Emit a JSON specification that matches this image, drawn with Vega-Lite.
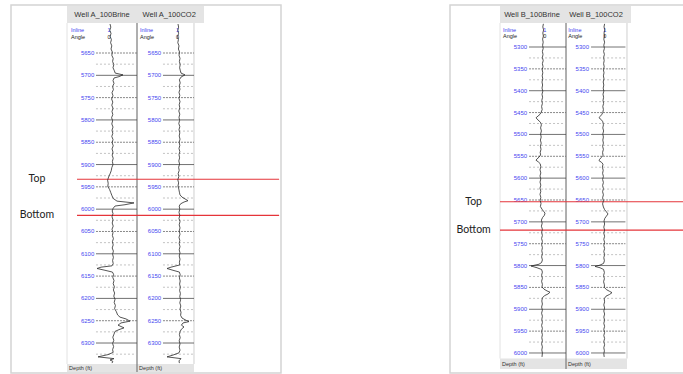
{
  "$schema": "https://vega.github.io/schema/vega-lite/v6.json",
  "background": "white",
  "padding": {"left": 10, "top": 4, "right": 0, "bottom": 0},
  "spacing": 167,
  "config": {
    "view": {"stroke": "#d4d4d4", "strokeWidth": 1.5},
    "axis": {"disable": true},
    "text": {"font": "Liberation Sans"}
  },
  "datasets": {
    "curveA1": [
      {"depth":5585,"amp":-0.10},{"depth":5592,"amp":-0.06},{"depth":5599,"amp":-0.11},{"depth":5606,"amp":-0.05},{"depth":5613,"amp":-0.09},{"depth":5620,"amp":-0.03},{"depth":5627,"amp":-0.07},{"depth":5634,"amp":-0.01},{"depth":5641,"amp":-0.05},{"depth":5648,"amp":0.02},{"depth":5655,"amp":-0.01},{"depth":5662,"amp":0.06},{"depth":5669,"amp":0.03},{"depth":5676,"amp":0.09},{"depth":5683,"amp":0.05},{"depth":5690,"amp":0.12},{"depth":5695,"amp":0.16},{"depth":5699,"amp":0.55},{"depth":5703,"amp":0.35},{"depth":5706,"amp":0.10},{"depth":5712,"amp":0.05},{"depth":5718,"amp":0.10},{"depth":5725,"amp":0.03},{"depth":5732,"amp":0.07},{"depth":5739,"amp":0.00},{"depth":5746,"amp":0.05},{"depth":5753,"amp":-0.02},{"depth":5760,"amp":0.04},{"depth":5767,"amp":-0.01},{"depth":5774,"amp":0.05},{"depth":5781,"amp":0.00},{"depth":5788,"amp":0.04},{"depth":5795,"amp":-0.02},{"depth":5802,"amp":0.03},{"depth":5809,"amp":-0.01},{"depth":5816,"amp":0.05},{"depth":5823,"amp":0.00},{"depth":5830,"amp":0.04},{"depth":5837,"amp":-0.01},{"depth":5844,"amp":0.05},{"depth":5851,"amp":0.01},{"depth":5858,"amp":0.06},{"depth":5865,"amp":0.00},{"depth":5872,"amp":0.05},{"depth":5879,"amp":0.01},{"depth":5886,"amp":0.06},{"depth":5893,"amp":0.02},{"depth":5900,"amp":0.05},{"depth":5907,"amp":-0.01},{"depth":5914,"amp":-0.04},{"depth":5921,"amp":-0.10},{"depth":5928,"amp":-0.17},{"depth":5935,"amp":-0.22},{"depth":5942,"amp":-0.19},{"depth":5949,"amp":-0.21},{"depth":5956,"amp":-0.12},{"depth":5963,"amp":-0.06},{"depth":5970,"amp":0.00},{"depth":5976,"amp":0.06},{"depth":5982,"amp":0.25},{"depth":5986,"amp":1.10},{"depth":5990,"amp":0.65},{"depth":5993,"amp":0.15},{"depth":5998,"amp":0.06},{"depth":6004,"amp":0.01},{"depth":6010,"amp":0.05},{"depth":6017,"amp":0.00},{"depth":6024,"amp":0.05},{"depth":6031,"amp":0.01},{"depth":6038,"amp":0.06},{"depth":6045,"amp":0.00},{"depth":6052,"amp":0.05},{"depth":6059,"amp":0.02},{"depth":6066,"amp":0.07},{"depth":6073,"amp":0.02},{"depth":6080,"amp":0.06},{"depth":6087,"amp":0.01},{"depth":6094,"amp":0.07},{"depth":6101,"amp":0.03},{"depth":6108,"amp":0.07},{"depth":6115,"amp":0.03},{"depth":6122,"amp":0.06},{"depth":6127,"amp":0.00},{"depth":6130,"amp":-0.55},{"depth":6133,"amp":-0.75},{"depth":6137,"amp":-0.35},{"depth":6141,"amp":0.02},{"depth":6146,"amp":0.08},{"depth":6153,"amp":0.04},{"depth":6160,"amp":0.10},{"depth":6167,"amp":0.06},{"depth":6174,"amp":0.12},{"depth":6181,"amp":0.07},{"depth":6188,"amp":0.13},{"depth":6195,"amp":0.09},{"depth":6202,"amp":0.15},{"depth":6209,"amp":0.11},{"depth":6216,"amp":0.17},{"depth":6223,"amp":0.13},{"depth":6230,"amp":0.22},{"depth":6237,"amp":0.28},{"depth":6242,"amp":0.40},{"depth":6246,"amp":0.70},{"depth":6251,"amp":0.90},{"depth":6255,"amp":0.45},{"depth":6260,"amp":0.30},{"depth":6266,"amp":0.60},{"depth":6270,"amp":0.35},{"depth":6274,"amp":0.15},{"depth":6280,"amp":0.10},{"depth":6287,"amp":0.04},{"depth":6294,"amp":0.09},{"depth":6301,"amp":0.03},{"depth":6308,"amp":0.08},{"depth":6315,"amp":0.03},{"depth":6321,"amp":0.06},{"depth":6326,"amp":-0.20},{"depth":6331,"amp":-0.70},{"depth":6335,"amp":0.10},{"depth":6338,"amp":-0.10},{"depth":6341,"amp":0.04},{"depth":6345,"amp":0.00}
    ],
    "curveA2": [
      {"depth":5585,"amp":-0.05},{"depth":5592,"amp":-0.02},{"depth":5599,"amp":-0.06},{"depth":5606,"amp":-0.02},{"depth":5613,"amp":-0.07},{"depth":5620,"amp":-0.03},{"depth":5627,"amp":-0.06},{"depth":5634,"amp":0.00},{"depth":5641,"amp":-0.03},{"depth":5648,"amp":0.03},{"depth":5655,"amp":0.00},{"depth":5662,"amp":0.05},{"depth":5669,"amp":0.02},{"depth":5676,"amp":0.06},{"depth":5683,"amp":0.03},{"depth":5690,"amp":0.07},{"depth":5695,"amp":0.10},{"depth":5699,"amp":0.30},{"depth":5704,"amp":0.10},{"depth":5710,"amp":0.02},{"depth":5717,"amp":0.06},{"depth":5724,"amp":0.01},{"depth":5731,"amp":0.05},{"depth":5738,"amp":0.00},{"depth":5745,"amp":0.04},{"depth":5752,"amp":0.00},{"depth":5759,"amp":0.05},{"depth":5766,"amp":0.01},{"depth":5773,"amp":0.04},{"depth":5780,"amp":-0.01},{"depth":5787,"amp":0.04},{"depth":5794,"amp":0.00},{"depth":5801,"amp":0.03},{"depth":5808,"amp":-0.01},{"depth":5815,"amp":0.04},{"depth":5822,"amp":0.00},{"depth":5829,"amp":0.04},{"depth":5836,"amp":0.01},{"depth":5843,"amp":0.05},{"depth":5850,"amp":0.01},{"depth":5857,"amp":0.04},{"depth":5864,"amp":0.00},{"depth":5871,"amp":0.04},{"depth":5878,"amp":0.00},{"depth":5885,"amp":0.03},{"depth":5892,"amp":-0.01},{"depth":5899,"amp":0.03},{"depth":5906,"amp":-0.02},{"depth":5913,"amp":0.01},{"depth":5920,"amp":-0.04},{"depth":5927,"amp":-0.01},{"depth":5934,"amp":-0.06},{"depth":5941,"amp":-0.02},{"depth":5948,"amp":-0.05},{"depth":5955,"amp":-0.01},{"depth":5962,"amp":0.02},{"depth":5968,"amp":0.05},{"depth":5973,"amp":0.15},{"depth":5977,"amp":0.30},{"depth":5981,"amp":0.45},{"depth":5984,"amp":0.25},{"depth":5988,"amp":0.08},{"depth":5993,"amp":0.01},{"depth":6000,"amp":0.04},{"depth":6007,"amp":0.00},{"depth":6014,"amp":0.04},{"depth":6021,"amp":0.00},{"depth":6028,"amp":0.05},{"depth":6035,"amp":0.01},{"depth":6042,"amp":0.05},{"depth":6049,"amp":0.01},{"depth":6056,"amp":0.05},{"depth":6063,"amp":0.00},{"depth":6070,"amp":0.04},{"depth":6077,"amp":0.01},{"depth":6084,"amp":0.05},{"depth":6091,"amp":0.01},{"depth":6098,"amp":0.05},{"depth":6105,"amp":0.01},{"depth":6112,"amp":0.05},{"depth":6119,"amp":0.02},{"depth":6125,"amp":0.04},{"depth":6130,"amp":-0.40},{"depth":6133,"amp":-0.60},{"depth":6137,"amp":-0.30},{"depth":6141,"amp":0.02},{"depth":6147,"amp":0.06},{"depth":6154,"amp":0.02},{"depth":6161,"amp":0.06},{"depth":6168,"amp":0.03},{"depth":6175,"amp":0.07},{"depth":6182,"amp":0.03},{"depth":6189,"amp":0.07},{"depth":6196,"amp":0.04},{"depth":6203,"amp":0.08},{"depth":6210,"amp":0.04},{"depth":6217,"amp":0.09},{"depth":6224,"amp":0.05},{"depth":6231,"amp":0.10},{"depth":6238,"amp":0.08},{"depth":6244,"amp":0.15},{"depth":6249,"amp":0.35},{"depth":6252,"amp":0.50},{"depth":6255,"amp":0.20},{"depth":6260,"amp":0.12},{"depth":6264,"amp":0.25},{"depth":6269,"amp":0.12},{"depth":6274,"amp":0.06},{"depth":6281,"amp":0.02},{"depth":6288,"amp":0.06},{"depth":6295,"amp":0.01},{"depth":6302,"amp":0.05},{"depth":6309,"amp":0.01},{"depth":6316,"amp":0.05},{"depth":6322,"amp":0.00},{"depth":6327,"amp":-0.30},{"depth":6331,"amp":-0.60},{"depth":6335,"amp":0.10},{"depth":6340,"amp":0.00},{"depth":6345,"amp":0.02}
    ],
    "curveB1": [
      {"depth":5247,"amp":0.07},{"depth":5254,"amp":0.04},{"depth":5261,"amp":0.08},{"depth":5268,"amp":0.04},{"depth":5275,"amp":0.07},{"depth":5282,"amp":0.03},{"depth":5289,"amp":0.06},{"depth":5296,"amp":0.03},{"depth":5303,"amp":0.06},{"depth":5310,"amp":0.02},{"depth":5317,"amp":0.05},{"depth":5324,"amp":0.02},{"depth":5331,"amp":0.06},{"depth":5338,"amp":0.02},{"depth":5345,"amp":0.05},{"depth":5352,"amp":0.01},{"depth":5359,"amp":0.04},{"depth":5366,"amp":0.01},{"depth":5373,"amp":0.04},{"depth":5380,"amp":0.00},{"depth":5387,"amp":0.03},{"depth":5394,"amp":0.00},{"depth":5401,"amp":0.04},{"depth":5408,"amp":0.00},{"depth":5415,"amp":0.03},{"depth":5422,"amp":-0.01},{"depth":5429,"amp":0.02},{"depth":5436,"amp":-0.02},{"depth":5443,"amp":0.01},{"depth":5449,"amp":-0.04},{"depth":5454,"amp":-0.10},{"depth":5458,"amp":-0.20},{"depth":5462,"amp":-0.30},{"depth":5467,"amp":-0.20},{"depth":5472,"amp":-0.08},{"depth":5478,"amp":-0.03},{"depth":5485,"amp":-0.07},{"depth":5492,"amp":-0.03},{"depth":5499,"amp":-0.07},{"depth":5506,"amp":-0.04},{"depth":5513,"amp":-0.08},{"depth":5520,"amp":-0.04},{"depth":5527,"amp":-0.08},{"depth":5534,"amp":-0.05},{"depth":5541,"amp":-0.09},{"depth":5547,"amp":-0.07},{"depth":5552,"amp":-0.15},{"depth":5556,"amp":-0.25},{"depth":5559,"amp":-0.30},{"depth":5563,"amp":-0.18},{"depth":5567,"amp":-0.09},{"depth":5574,"amp":-0.06},{"depth":5581,"amp":-0.10},{"depth":5588,"amp":-0.06},{"depth":5595,"amp":-0.10},{"depth":5602,"amp":-0.06},{"depth":5609,"amp":-0.10},{"depth":5616,"amp":-0.06},{"depth":5623,"amp":-0.10},{"depth":5630,"amp":-0.06},{"depth":5637,"amp":-0.10},{"depth":5644,"amp":-0.06},{"depth":5651,"amp":-0.09},{"depth":5658,"amp":-0.05},{"depth":5665,"amp":-0.08},{"depth":5671,"amp":0.00},{"depth":5676,"amp":0.08},{"depth":5680,"amp":0.15},{"depth":5685,"amp":0.12},{"depth":5690,"amp":0.03},{"depth":5696,"amp":-0.03},{"depth":5703,"amp":0.01},{"depth":5710,"amp":-0.03},{"depth":5717,"amp":0.02},{"depth":5724,"amp":-0.02},{"depth":5731,"amp":0.02},{"depth":5738,"amp":-0.02},{"depth":5745,"amp":0.02},{"depth":5752,"amp":-0.02},{"depth":5759,"amp":0.02},{"depth":5766,"amp":-0.01},{"depth":5773,"amp":0.02},{"depth":5780,"amp":-0.02},{"depth":5787,"amp":0.02},{"depth":5793,"amp":-0.02},{"depth":5797,"amp":-0.15},{"depth":5801,"amp":-0.55},{"depth":5805,"amp":-0.25},{"depth":5809,"amp":-0.02},{"depth":5815,"amp":0.02},{"depth":5822,"amp":-0.02},{"depth":5829,"amp":0.02},{"depth":5836,"amp":-0.02},{"depth":5843,"amp":0.02},{"depth":5849,"amp":0.00},{"depth":5854,"amp":0.10},{"depth":5858,"amp":0.25},{"depth":5861,"amp":0.40},{"depth":5865,"amp":0.30},{"depth":5869,"amp":0.12},{"depth":5874,"amp":0.02},{"depth":5881,"amp":-0.01},{"depth":5888,"amp":0.02},{"depth":5895,"amp":-0.02},{"depth":5902,"amp":0.02},{"depth":5909,"amp":-0.02},{"depth":5916,"amp":0.02},{"depth":5923,"amp":-0.01},{"depth":5930,"amp":0.02},{"depth":5937,"amp":-0.02},{"depth":5944,"amp":0.02},{"depth":5951,"amp":-0.02},{"depth":5958,"amp":0.02},{"depth":5965,"amp":-0.01},{"depth":5972,"amp":0.02},{"depth":5979,"amp":-0.02},{"depth":5986,"amp":0.02},{"depth":5993,"amp":-0.01},{"depth":6000,"amp":0.02},{"depth":6009,"amp":0.00}
    ],
    "curveB2": [
      {"depth":5247,"amp":0.03},{"depth":5254,"amp":0.00},{"depth":5261,"amp":0.04},{"depth":5268,"amp":0.00},{"depth":5275,"amp":0.03},{"depth":5282,"amp":-0.01},{"depth":5289,"amp":0.03},{"depth":5296,"amp":-0.01},{"depth":5303,"amp":0.02},{"depth":5310,"amp":-0.02},{"depth":5317,"amp":0.02},{"depth":5324,"amp":-0.02},{"depth":5331,"amp":0.01},{"depth":5338,"amp":-0.02},{"depth":5345,"amp":0.01},{"depth":5352,"amp":-0.03},{"depth":5359,"amp":0.00},{"depth":5366,"amp":-0.03},{"depth":5373,"amp":0.00},{"depth":5380,"amp":-0.04},{"depth":5387,"amp":-0.01},{"depth":5394,"amp":-0.04},{"depth":5401,"amp":-0.01},{"depth":5408,"amp":-0.05},{"depth":5415,"amp":-0.02},{"depth":5422,"amp":-0.05},{"depth":5429,"amp":-0.02},{"depth":5436,"amp":-0.06},{"depth":5443,"amp":-0.03},{"depth":5450,"amp":-0.06},{"depth":5455,"amp":-0.12},{"depth":5459,"amp":-0.20},{"depth":5462,"amp":-0.25},{"depth":5466,"amp":-0.14},{"depth":5471,"amp":-0.06},{"depth":5478,"amp":-0.03},{"depth":5485,"amp":-0.06},{"depth":5492,"amp":-0.02},{"depth":5499,"amp":-0.06},{"depth":5506,"amp":-0.03},{"depth":5513,"amp":-0.06},{"depth":5520,"amp":-0.03},{"depth":5527,"amp":-0.07},{"depth":5534,"amp":-0.03},{"depth":5541,"amp":-0.07},{"depth":5548,"amp":-0.05},{"depth":5553,"amp":-0.14},{"depth":5557,"amp":-0.22},{"depth":5560,"amp":-0.25},{"depth":5564,"amp":-0.12},{"depth":5568,"amp":-0.05},{"depth":5575,"amp":-0.08},{"depth":5582,"amp":-0.04},{"depth":5589,"amp":-0.07},{"depth":5596,"amp":-0.03},{"depth":5603,"amp":-0.07},{"depth":5610,"amp":-0.03},{"depth":5617,"amp":-0.07},{"depth":5624,"amp":-0.03},{"depth":5631,"amp":-0.07},{"depth":5638,"amp":-0.03},{"depth":5645,"amp":-0.07},{"depth":5652,"amp":-0.03},{"depth":5659,"amp":-0.07},{"depth":5666,"amp":-0.03},{"depth":5672,"amp":0.03},{"depth":5677,"amp":0.12},{"depth":5682,"amp":0.20},{"depth":5687,"amp":0.12},{"depth":5692,"amp":0.04},{"depth":5698,"amp":0.00},{"depth":5705,"amp":0.03},{"depth":5712,"amp":-0.01},{"depth":5719,"amp":0.03},{"depth":5726,"amp":-0.01},{"depth":5733,"amp":0.03},{"depth":5740,"amp":-0.01},{"depth":5747,"amp":0.03},{"depth":5754,"amp":-0.01},{"depth":5761,"amp":0.03},{"depth":5768,"amp":-0.01},{"depth":5775,"amp":0.03},{"depth":5782,"amp":-0.01},{"depth":5789,"amp":0.02},{"depth":5795,"amp":-0.02},{"depth":5799,"amp":-0.20},{"depth":5802,"amp":-0.45},{"depth":5805,"amp":-0.20},{"depth":5809,"amp":-0.02},{"depth":5816,"amp":0.02},{"depth":5823,"amp":-0.02},{"depth":5830,"amp":0.02},{"depth":5837,"amp":-0.02},{"depth":5844,"amp":0.02},{"depth":5850,"amp":0.02},{"depth":5855,"amp":0.12},{"depth":5859,"amp":0.28},{"depth":5862,"amp":0.40},{"depth":5866,"amp":0.28},{"depth":5870,"amp":0.10},{"depth":5876,"amp":0.01},{"depth":5883,"amp":0.03},{"depth":5890,"amp":-0.01},{"depth":5897,"amp":0.03},{"depth":5904,"amp":-0.01},{"depth":5911,"amp":0.03},{"depth":5918,"amp":-0.01},{"depth":5925,"amp":0.03},{"depth":5932,"amp":-0.01},{"depth":5939,"amp":0.03},{"depth":5946,"amp":-0.01},{"depth":5953,"amp":0.03},{"depth":5960,"amp":-0.01},{"depth":5967,"amp":0.03},{"depth":5974,"amp":-0.01},{"depth":5981,"amp":0.03},{"depth":5988,"amp":-0.01},{"depth":5995,"amp":0.02},{"depth":6002,"amp":-0.01},{"depth":6009,"amp":0.01}
    ],
    "ticksA": [
      {"depth":5650},{"depth":5675},{"depth":5700},{"depth":5725},{"depth":5750},{"depth":5775},{"depth":5800},{"depth":5825},{"depth":5850},{"depth":5875},{"depth":5900},{"depth":5925},{"depth":5950},{"depth":5975},{"depth":6000},{"depth":6025},{"depth":6050},{"depth":6075},{"depth":6100},{"depth":6125},{"depth":6150},{"depth":6175},{"depth":6200},{"depth":6225},{"depth":6250},{"depth":6275},{"depth":6300},{"depth":6325}
    ],
    "ticksB": [
      {"depth":5300},{"depth":5325},{"depth":5350},{"depth":5375},{"depth":5400},{"depth":5425},{"depth":5450},{"depth":5475},{"depth":5500},{"depth":5525},{"depth":5550},{"depth":5575},{"depth":5600},{"depth":5625},{"depth":5650},{"depth":5675},{"depth":5700},{"depth":5725},{"depth":5750},{"depth":5775},{"depth":5800},{"depth":5825},{"depth":5850},{"depth":5875},{"depth":5900},{"depth":5925},{"depth":5950},{"depth":5975},{"depth":6000}
    ],
    "markersA": [{"label":"Top","depth":5933},{"label":"Bottom","depth":6014}],
    "markersB": [{"label":"Top","depth":5654},{"label":"Bottom","depth":5719}]
  },
  "hconcat": [
    {
      "width": 270,
      "height": 368,
      "resolve": {"scale": {"x": "independent"}},
      "layer": [
        {
          "layer": [
            {"data": {"values": [{}]}, "mark": {"type": "rect", "fill": "#e4e4e4"},
             "encoding": {"x": {"datum": 0, "type": "quantitative", "scale": {"domain": [-0.8, 3.057], "nice": false, "zero": false}}, "x2": {"datum": 1.957},
                          "y": {"datum": 5544.7, "type": "quantitative", "scale": {"domain": [5542.4, 6367.2], "reverse": true, "nice": false, "zero": false}}, "y2": {"datum": 5582.8}}},
            {"data": {"values": [{}]}, "mark": {"type": "rect", "fill": "#e4e4e4"},
             "encoding": {"x": {"datum": 0, "type": "quantitative", "scale": {"domain": [-0.8, 3.057], "nice": false, "zero": false}}, "x2": {"datum": 1.814},
                          "y": {"datum": 6347, "type": "quantitative", "scale": {"domain": [5542.4, 6367.2], "reverse": true, "nice": false, "zero": false}}, "y2": {"datum": 6364.9}}},
            {"data": {"values": [{}]}, "mark": {"type": "rule", "stroke": "#e2e2e2", "strokeWidth": 1},
             "encoding": {"x": {"datum": 0, "type": "quantitative", "scale": {"domain": [-0.8, 3.057], "nice": false, "zero": false}},
                          "y": {"datum": 5582.8, "type": "quantitative", "scale": {"domain": [5542.4, 6367.2], "reverse": true, "nice": false, "zero": false}}, "y2": {"datum": 6347}}},
            {"data": {"values": [{}]}, "mark": {"type": "rule", "stroke": "#7a7a7a", "strokeWidth": 1.2},
             "encoding": {"x": {"datum": 1.0, "type": "quantitative", "scale": {"domain": [-0.8, 3.057], "nice": false, "zero": false}},
                          "y": {"datum": 5582.8, "type": "quantitative", "scale": {"domain": [5542.4, 6367.2], "reverse": true, "nice": false, "zero": false}}, "y2": {"datum": 6365}}},
            {"data": {"values": [{}]}, "mark": {"type": "rule", "stroke": "#cfcfcf", "strokeWidth": 1},
             "encoding": {"x": {"datum": 1.814, "type": "quantitative", "scale": {"domain": [-0.8, 3.057], "nice": false, "zero": false}},
                          "y": {"datum": 5582.8, "type": "quantitative", "scale": {"domain": [5542.4, 6367.2], "reverse": true, "nice": false, "zero": false}}, "y2": {"datum": 6347}}},
            {"data": {"name": "ticksA"}, "mark": {"type": "rule", "strokeWidth": 0.8},
             "encoding": {"x": {"datum": 0.414, "type": "quantitative", "scale": {"domain": [-0.8, 3.057], "nice": false, "zero": false}}, "x2": {"datum": 1.0},
                          "y": {"field": "depth", "type": "quantitative", "scale": {"domain": [5542.4, 6367.2], "reverse": true, "nice": false, "zero": false}},
                          "color": {"condition": [{"test": "datum.depth % 100 === 0", "value": "#4a4a4a"}, {"test": "datum.depth % 50 === 0", "value": "#6a6a6a"}], "value": "#b4b4b4"},
                          "strokeDash": {"condition": [{"test": "datum.depth % 100 === 0", "value": [1, 0]}, {"test": "datum.depth % 50 === 0", "value": [2, 1]}], "value": [2, 2]}}},
            {"data": {"name": "ticksA"}, "mark": {"type": "rule", "strokeWidth": 0.8},
             "encoding": {"x": {"datum": 1.371, "type": "quantitative", "scale": {"domain": [-0.8, 3.057], "nice": false, "zero": false}}, "x2": {"datum": 1.814},
                          "y": {"field": "depth", "type": "quantitative", "scale": {"domain": [5542.4, 6367.2], "reverse": true, "nice": false, "zero": false}},
                          "color": {"condition": [{"test": "datum.depth % 100 === 0", "value": "#4a4a4a"}, {"test": "datum.depth % 50 === 0", "value": "#6a6a6a"}], "value": "#b4b4b4"},
                          "strokeDash": {"condition": [{"test": "datum.depth % 100 === 0", "value": [1, 0]}, {"test": "datum.depth % 50 === 0", "value": [2, 1]}], "value": [2, 2]}}},
            {"data": {"name": "ticksA"}, "transform": [{"filter": "datum.depth % 50 === 0"}],
             "mark": {"type": "text", "align": "right", "baseline": "middle", "fontSize": 6, "color": "#4747f0"},
             "encoding": {"x": {"datum": 0.39, "type": "quantitative", "scale": {"domain": [-0.8, 3.057], "nice": false, "zero": false}},
                          "y": {"field": "depth", "type": "quantitative", "scale": {"domain": [5542.4, 6367.2], "reverse": true, "nice": false, "zero": false}},
                          "text": {"field": "depth", "type": "quantitative", "format": "d"}}},
            {"data": {"name": "ticksA"}, "transform": [{"filter": "datum.depth % 50 === 0"}],
             "mark": {"type": "text", "align": "right", "baseline": "middle", "fontSize": 6, "color": "#4747f0"},
             "encoding": {"x": {"datum": 1.345, "type": "quantitative", "scale": {"domain": [-0.8, 3.057], "nice": false, "zero": false}},
                          "y": {"field": "depth", "type": "quantitative", "scale": {"domain": [5542.4, 6367.2], "reverse": true, "nice": false, "zero": false}},
                          "text": {"field": "depth", "type": "quantitative", "format": "d"}}},
            {"data": {"values": [{"name": "Well A_100Brine"}]}, "mark": {"type": "text", "align": "center", "baseline": "middle", "fontSize": 7.5, "color": "#333333"},
             "encoding": {"x": {"datum": 0.5, "type": "quantitative", "scale": {"domain": [-0.8, 3.057], "nice": false, "zero": false}},
                          "y": {"datum": 5564.8, "type": "quantitative", "scale": {"domain": [5542.4, 6367.2], "reverse": true, "nice": false, "zero": false}}, "text": {"field": "name"}}},
            {"data": {"values": [{"name": "Well A_100CO2"}]}, "mark": {"type": "text", "align": "center", "baseline": "middle", "fontSize": 7.5, "color": "#333333"},
             "encoding": {"x": {"datum": 1.46, "type": "quantitative", "scale": {"domain": [-0.8, 3.057], "nice": false, "zero": false}},
                          "y": {"datum": 5564.8, "type": "quantitative", "scale": {"domain": [5542.4, 6367.2], "reverse": true, "nice": false, "zero": false}}, "text": {"field": "name"}}},
            {"data": {"values": [{"param": "Inline", "setting": "1"}]}, "mark": {"type": "text", "align": "left", "baseline": "middle", "fontSize": 5.5, "color": "#3d3df0"},
             "encoding": {"x": {"datum": 0.057, "type": "quantitative", "scale": {"domain": [-0.8, 3.057], "nice": false, "zero": false}},
                          "y": {"datum": 5598.5, "type": "quantitative", "scale": {"domain": [5542.4, 6367.2], "reverse": true, "nice": false, "zero": false}}, "text": {"field": "param"}}},
            {"data": {"values": [{"param": "Inline", "setting": "1"}]}, "mark": {"type": "text", "align": "center", "baseline": "middle", "fontSize": 5.5, "color": "#3d3df0"},
             "encoding": {"x": {"datum": 0.6, "type": "quantitative", "scale": {"domain": [-0.8, 3.057], "nice": false, "zero": false}},
                          "y": {"datum": 5598.5, "type": "quantitative", "scale": {"domain": [5542.4, 6367.2], "reverse": true, "nice": false, "zero": false}}, "text": {"field": "setting"}}},
            {"data": {"values": [{"param": "Angle", "setting": "0"}]}, "mark": {"type": "text", "align": "left", "baseline": "middle", "fontSize": 5.5, "color": "#222222"},
             "encoding": {"x": {"datum": 0.057, "type": "quantitative", "scale": {"domain": [-0.8, 3.057], "nice": false, "zero": false}},
                          "y": {"datum": 5614.1, "type": "quantitative", "scale": {"domain": [5542.4, 6367.2], "reverse": true, "nice": false, "zero": false}}, "text": {"field": "param"}}},
            {"data": {"values": [{"param": "Angle", "setting": "0"}]}, "mark": {"type": "text", "align": "center", "baseline": "middle", "fontSize": 5.5, "color": "#222222"},
             "encoding": {"x": {"datum": 0.6, "type": "quantitative", "scale": {"domain": [-0.8, 3.057], "nice": false, "zero": false}},
                          "y": {"datum": 5614.1, "type": "quantitative", "scale": {"domain": [5542.4, 6367.2], "reverse": true, "nice": false, "zero": false}}, "text": {"field": "setting"}}},
            {"data": {"values": [{"param": "Inline", "setting": "1"}]}, "mark": {"type": "text", "align": "left", "baseline": "middle", "fontSize": 5.5, "color": "#3d3df0"},
             "encoding": {"x": {"datum": 1.043, "type": "quantitative", "scale": {"domain": [-0.8, 3.057], "nice": false, "zero": false}},
                          "y": {"datum": 5598.5, "type": "quantitative", "scale": {"domain": [5542.4, 6367.2], "reverse": true, "nice": false, "zero": false}}, "text": {"field": "param"}}},
            {"data": {"values": [{"param": "Inline", "setting": "1"}]}, "mark": {"type": "text", "align": "center", "baseline": "middle", "fontSize": 5.5, "color": "#3d3df0"},
             "encoding": {"x": {"datum": 1.58, "type": "quantitative", "scale": {"domain": [-0.8, 3.057], "nice": false, "zero": false}},
                          "y": {"datum": 5598.5, "type": "quantitative", "scale": {"domain": [5542.4, 6367.2], "reverse": true, "nice": false, "zero": false}}, "text": {"field": "setting"}}},
            {"data": {"values": [{"param": "Angle", "setting": "0"}]}, "mark": {"type": "text", "align": "left", "baseline": "middle", "fontSize": 5.5, "color": "#222222"},
             "encoding": {"x": {"datum": 1.043, "type": "quantitative", "scale": {"domain": [-0.8, 3.057], "nice": false, "zero": false}},
                          "y": {"datum": 5614.1, "type": "quantitative", "scale": {"domain": [5542.4, 6367.2], "reverse": true, "nice": false, "zero": false}}, "text": {"field": "param"}}},
            {"data": {"values": [{"param": "Angle", "setting": "0"}]}, "mark": {"type": "text", "align": "center", "baseline": "middle", "fontSize": 5.5, "color": "#222222"},
             "encoding": {"x": {"datum": 1.58, "type": "quantitative", "scale": {"domain": [-0.8, 3.057], "nice": false, "zero": false}},
                          "y": {"datum": 5614.1, "type": "quantitative", "scale": {"domain": [5542.4, 6367.2], "reverse": true, "nice": false, "zero": false}}, "text": {"field": "setting"}}},
            {"data": {"values": [{"title": "Depth (ft)"}]}, "mark": {"type": "text", "align": "left", "baseline": "middle", "fontSize": 5.5, "color": "#333333"},
             "encoding": {"x": {"datum": 0.03, "type": "quantitative", "scale": {"domain": [-0.8, 3.057], "nice": false, "zero": false}},
                          "y": {"datum": 6356, "type": "quantitative", "scale": {"domain": [5542.4, 6367.2], "reverse": true, "nice": false, "zero": false}}, "text": {"field": "title"}}},
            {"data": {"values": [{"title": "Depth (ft)"}]}, "mark": {"type": "text", "align": "left", "baseline": "middle", "fontSize": 5.5, "color": "#333333"},
             "encoding": {"x": {"datum": 1.03, "type": "quantitative", "scale": {"domain": [-0.8, 3.057], "nice": false, "zero": false}},
                          "y": {"datum": 6356, "type": "quantitative", "scale": {"domain": [5542.4, 6367.2], "reverse": true, "nice": false, "zero": false}}, "text": {"field": "title"}}},
            {"data": {"name": "markersA"}, "mark": {"type": "rule", "stroke": "#e5343a", "strokeWidth": 1.1},
             "encoding": {"x": {"datum": 0.143, "type": "quantitative", "scale": {"domain": [-0.8, 3.057], "nice": false, "zero": false}}, "x2": {"datum": 3.03},
                          "y": {"field": "depth", "type": "quantitative", "scale": {"domain": [5542.4, 6367.2], "reverse": true, "nice": false, "zero": false}}}},
            {"data": {"name": "markersA"}, "mark": {"type": "text", "align": "center", "baseline": "middle", "font": "Lato", "fontSize": 10.5, "color": "#222222"},
             "encoding": {"x": {"datum": -0.43, "type": "quantitative", "scale": {"domain": [-0.8, 3.057], "nice": false, "zero": false}},
                          "y": {"field": "depth", "type": "quantitative", "scale": {"domain": [5542.4, 6367.2], "reverse": true, "nice": false, "zero": false}},
                          "text": {"field": "label"}}}
          ]
        },
        {"data": {"name": "curveA1"}, "mark": {"type": "line", "stroke": "#2a2a2a", "strokeWidth": 0.8},
         "encoding": {"x": {"field": "amp", "type": "quantitative", "scale": {"domain": [-5.05, 8.45], "nice": false, "zero": false}},
                      "y": {"field": "depth", "type": "quantitative", "scale": {"domain": [5542.4, 6367.2], "reverse": true, "nice": false, "zero": false}},
                      "order": {"field": "depth", "type": "quantitative"}}},
        {"data": {"name": "curveA2"}, "mark": {"type": "line", "stroke": "#2a2a2a", "strokeWidth": 0.8},
         "encoding": {"x": {"field": "amp", "type": "quantitative", "scale": {"domain": [-8.4, 5.1], "nice": false, "zero": false}},
                      "y": {"field": "depth", "type": "quantitative", "scale": {"domain": [5542.4, 6367.2], "reverse": true, "nice": false, "zero": false}},
                      "order": {"field": "depth", "type": "quantitative"}}}
      ]
    },
    {
      "width": 236,
      "height": 368,
      "resolve": {"scale": {"x": "independent"}},
      "layer": [
        {
          "layer": [
            {"data": {"values": [{}]}, "mark": {"type": "rect", "fill": "#e4e4e4"},
             "encoding": {"x": {"datum": 0, "type": "quantitative", "scale": {"domain": [-0.7576, 2.818], "nice": false, "zero": false}}, "x2": {"datum": 1.985},
                          "y": {"datum": 5206.2, "type": "quantitative", "scale": {"domain": [5203.9, 6045.8], "reverse": true, "nice": false, "zero": false}}, "y2": {"datum": 5245.1}}},
            {"data": {"values": [{}]}, "mark": {"type": "rect", "fill": "#e4e4e4"},
             "encoding": {"x": {"datum": 0, "type": "quantitative", "scale": {"domain": [-0.7576, 2.818], "nice": false, "zero": false}}, "x2": {"datum": 1.924},
                          "y": {"datum": 6012.7, "type": "quantitative", "scale": {"domain": [5203.9, 6045.8], "reverse": true, "nice": false, "zero": false}}, "y2": {"datum": 6036.7}}},
            {"data": {"values": [{}]}, "mark": {"type": "rule", "stroke": "#e2e2e2", "strokeWidth": 1},
             "encoding": {"x": {"datum": 0, "type": "quantitative", "scale": {"domain": [-0.7576, 2.818], "nice": false, "zero": false}},
                          "y": {"datum": 5245.1, "type": "quantitative", "scale": {"domain": [5203.9, 6045.8], "reverse": true, "nice": false, "zero": false}}, "y2": {"datum": 6012.7}}},
            {"data": {"values": [{}]}, "mark": {"type": "rule", "stroke": "#7a7a7a", "strokeWidth": 1.2},
             "encoding": {"x": {"datum": 1.0, "type": "quantitative", "scale": {"domain": [-0.7576, 2.818], "nice": false, "zero": false}},
                          "y": {"datum": 5245.1, "type": "quantitative", "scale": {"domain": [5203.9, 6045.8], "reverse": true, "nice": false, "zero": false}}, "y2": {"datum": 6036.7}}},
            {"data": {"values": [{}]}, "mark": {"type": "rule", "stroke": "#cfcfcf", "strokeWidth": 1},
             "encoding": {"x": {"datum": 1.924, "type": "quantitative", "scale": {"domain": [-0.7576, 2.818], "nice": false, "zero": false}},
                          "y": {"datum": 5245.1, "type": "quantitative", "scale": {"domain": [5203.9, 6045.8], "reverse": true, "nice": false, "zero": false}}, "y2": {"datum": 6012.7}}},
            {"data": {"name": "ticksB"}, "mark": {"type": "rule", "strokeWidth": 0.8},
             "encoding": {"x": {"datum": 0.44, "type": "quantitative", "scale": {"domain": [-0.7576, 2.818], "nice": false, "zero": false}}, "x2": {"datum": 1.0},
                          "y": {"field": "depth", "type": "quantitative", "scale": {"domain": [5203.9, 6045.8], "reverse": true, "nice": false, "zero": false}},
                          "color": {"condition": [{"test": "datum.depth % 100 === 0", "value": "#4a4a4a"}, {"test": "datum.depth % 50 === 0", "value": "#6a6a6a"}], "value": "#b4b4b4"},
                          "strokeDash": {"condition": [{"test": "datum.depth % 100 === 0", "value": [1, 0]}, {"test": "datum.depth % 50 === 0", "value": [2, 1]}], "value": [2, 2]}}},
            {"data": {"name": "ticksB"}, "mark": {"type": "rule", "strokeWidth": 0.8},
             "encoding": {"x": {"datum": 1.38, "type": "quantitative", "scale": {"domain": [-0.7576, 2.818], "nice": false, "zero": false}}, "x2": {"datum": 1.9},
                          "y": {"field": "depth", "type": "quantitative", "scale": {"domain": [5203.9, 6045.8], "reverse": true, "nice": false, "zero": false}},
                          "color": {"condition": [{"test": "datum.depth % 100 === 0", "value": "#4a4a4a"}, {"test": "datum.depth % 50 === 0", "value": "#6a6a6a"}], "value": "#b4b4b4"},
                          "strokeDash": {"condition": [{"test": "datum.depth % 100 === 0", "value": [1, 0]}, {"test": "datum.depth % 50 === 0", "value": [2, 1]}], "value": [2, 2]}}},
            {"data": {"name": "ticksB"}, "transform": [{"filter": "datum.depth % 50 === 0"}],
             "mark": {"type": "text", "align": "right", "baseline": "middle", "fontSize": 6, "color": "#4747f0"},
             "encoding": {"x": {"datum": 0.41, "type": "quantitative", "scale": {"domain": [-0.7576, 2.818], "nice": false, "zero": false}},
                          "y": {"field": "depth", "type": "quantitative", "scale": {"domain": [5203.9, 6045.8], "reverse": true, "nice": false, "zero": false}},
                          "text": {"field": "depth", "type": "quantitative", "format": "d"}}},
            {"data": {"name": "ticksB"}, "transform": [{"filter": "datum.depth % 50 === 0"}],
             "mark": {"type": "text", "align": "right", "baseline": "middle", "fontSize": 6, "color": "#4747f0"},
             "encoding": {"x": {"datum": 1.348, "type": "quantitative", "scale": {"domain": [-0.7576, 2.818], "nice": false, "zero": false}},
                          "y": {"field": "depth", "type": "quantitative", "scale": {"domain": [5203.9, 6045.8], "reverse": true, "nice": false, "zero": false}},
                          "text": {"field": "depth", "type": "quantitative", "format": "d"}}},
            {"data": {"values": [{"name": "Well B_100Brine"}]}, "mark": {"type": "text", "align": "center", "baseline": "middle", "fontSize": 7.5, "color": "#333333"},
             "encoding": {"x": {"datum": 0.485, "type": "quantitative", "scale": {"domain": [-0.7576, 2.818], "nice": false, "zero": false}},
                          "y": {"datum": 5226.8, "type": "quantitative", "scale": {"domain": [5203.9, 6045.8], "reverse": true, "nice": false, "zero": false}}, "text": {"field": "name"}}},
            {"data": {"values": [{"name": "Well B_100CO2"}]}, "mark": {"type": "text", "align": "center", "baseline": "middle", "fontSize": 7.5, "color": "#333333"},
             "encoding": {"x": {"datum": 1.455, "type": "quantitative", "scale": {"domain": [-0.7576, 2.818], "nice": false, "zero": false}},
                          "y": {"datum": 5226.8, "type": "quantitative", "scale": {"domain": [5203.9, 6045.8], "reverse": true, "nice": false, "zero": false}}, "text": {"field": "name"}}},
            {"data": {"values": [{"param": "Inline", "setting": "1"}]}, "mark": {"type": "text", "align": "left", "baseline": "middle", "fontSize": 5.5, "color": "#3d3df0"},
             "encoding": {"x": {"datum": 0.045, "type": "quantitative", "scale": {"domain": [-0.7576, 2.818], "nice": false, "zero": false}},
                          "y": {"datum": 5261.8, "type": "quantitative", "scale": {"domain": [5203.9, 6045.8], "reverse": true, "nice": false, "zero": false}}, "text": {"field": "param"}}},
            {"data": {"values": [{"param": "Inline", "setting": "1"}]}, "mark": {"type": "text", "align": "center", "baseline": "middle", "fontSize": 5.5, "color": "#3d3df0"},
             "encoding": {"x": {"datum": 0.677, "type": "quantitative", "scale": {"domain": [-0.7576, 2.818], "nice": false, "zero": false}},
                          "y": {"datum": 5261.8, "type": "quantitative", "scale": {"domain": [5203.9, 6045.8], "reverse": true, "nice": false, "zero": false}}, "text": {"field": "setting"}}},
            {"data": {"values": [{"param": "Angle", "setting": "0"}]}, "mark": {"type": "text", "align": "left", "baseline": "middle", "fontSize": 5.5, "color": "#222222"},
             "encoding": {"x": {"datum": 0.045, "type": "quantitative", "scale": {"domain": [-0.7576, 2.818], "nice": false, "zero": false}},
                          "y": {"datum": 5274.8, "type": "quantitative", "scale": {"domain": [5203.9, 6045.8], "reverse": true, "nice": false, "zero": false}}, "text": {"field": "param"}}},
            {"data": {"values": [{"param": "Angle", "setting": "0"}]}, "mark": {"type": "text", "align": "center", "baseline": "middle", "fontSize": 5.5, "color": "#222222"},
             "encoding": {"x": {"datum": 0.677, "type": "quantitative", "scale": {"domain": [-0.7576, 2.818], "nice": false, "zero": false}},
                          "y": {"datum": 5274.8, "type": "quantitative", "scale": {"domain": [5203.9, 6045.8], "reverse": true, "nice": false, "zero": false}}, "text": {"field": "setting"}}},
            {"data": {"values": [{"param": "Inline", "setting": "1"}]}, "mark": {"type": "text", "align": "left", "baseline": "middle", "fontSize": 5.5, "color": "#3d3df0"},
             "encoding": {"x": {"datum": 1.035, "type": "quantitative", "scale": {"domain": [-0.7576, 2.818], "nice": false, "zero": false}},
                          "y": {"datum": 5261.8, "type": "quantitative", "scale": {"domain": [5203.9, 6045.8], "reverse": true, "nice": false, "zero": false}}, "text": {"field": "param"}}},
            {"data": {"values": [{"param": "Inline", "setting": "1"}]}, "mark": {"type": "text", "align": "center", "baseline": "middle", "fontSize": 5.5, "color": "#3d3df0"},
             "encoding": {"x": {"datum": 1.586, "type": "quantitative", "scale": {"domain": [-0.7576, 2.818], "nice": false, "zero": false}},
                          "y": {"datum": 5261.8, "type": "quantitative", "scale": {"domain": [5203.9, 6045.8], "reverse": true, "nice": false, "zero": false}}, "text": {"field": "setting"}}},
            {"data": {"values": [{"param": "Angle", "setting": "0"}]}, "mark": {"type": "text", "align": "left", "baseline": "middle", "fontSize": 5.5, "color": "#222222"},
             "encoding": {"x": {"datum": 1.035, "type": "quantitative", "scale": {"domain": [-0.7576, 2.818], "nice": false, "zero": false}},
                          "y": {"datum": 5274.8, "type": "quantitative", "scale": {"domain": [5203.9, 6045.8], "reverse": true, "nice": false, "zero": false}}, "text": {"field": "param"}}},
            {"data": {"values": [{"param": "Angle", "setting": "0"}]}, "mark": {"type": "text", "align": "center", "baseline": "middle", "fontSize": 5.5, "color": "#222222"},
             "encoding": {"x": {"datum": 1.586, "type": "quantitative", "scale": {"domain": [-0.7576, 2.818], "nice": false, "zero": false}},
                          "y": {"datum": 5274.8, "type": "quantitative", "scale": {"domain": [5203.9, 6045.8], "reverse": true, "nice": false, "zero": false}}, "text": {"field": "setting"}}},
            {"data": {"values": [{"title": "Depth (ft)"}]}, "mark": {"type": "text", "align": "left", "baseline": "middle", "fontSize": 5.5, "color": "#333333"},
             "encoding": {"x": {"datum": 0.03, "type": "quantitative", "scale": {"domain": [-0.7576, 2.818], "nice": false, "zero": false}},
                          "y": {"datum": 6024.5, "type": "quantitative", "scale": {"domain": [5203.9, 6045.8], "reverse": true, "nice": false, "zero": false}}, "text": {"field": "title"}}},
            {"data": {"values": [{"title": "Depth (ft)"}]}, "mark": {"type": "text", "align": "left", "baseline": "middle", "fontSize": 5.5, "color": "#333333"},
             "encoding": {"x": {"datum": 1.03, "type": "quantitative", "scale": {"domain": [-0.7576, 2.818], "nice": false, "zero": false}},
                          "y": {"datum": 6024.5, "type": "quantitative", "scale": {"domain": [5203.9, 6045.8], "reverse": true, "nice": false, "zero": false}}, "text": {"field": "title"}}},
            {"data": {"name": "markersB"}, "mark": {"type": "rule", "stroke": "#e5343a", "strokeWidth": 1.1},
             "encoding": {"x": {"datum": 0, "type": "quantitative", "scale": {"domain": [-0.7576, 2.818], "nice": false, "zero": false}}, "x2": {"datum": 2.818},
                          "y": {"field": "depth", "type": "quantitative", "scale": {"domain": [5203.9, 6045.8], "reverse": true, "nice": false, "zero": false}}}},
            {"data": {"name": "markersB"}, "mark": {"type": "text", "align": "center", "baseline": "middle", "font": "Lato", "fontSize": 10.5, "color": "#222222"},
             "encoding": {"x": {"datum": -0.4, "type": "quantitative", "scale": {"domain": [-0.7576, 2.818], "nice": false, "zero": false}},
                          "y": {"field": "depth", "type": "quantitative", "scale": {"domain": [5203.9, 6045.8], "reverse": true, "nice": false, "zero": false}},
                          "text": {"field": "label"}}}
          ]
        },
        {"data": {"name": "curveB1"}, "mark": {"type": "line", "stroke": "#2a2a2a", "strokeWidth": 0.8},
         "encoding": {"x": {"field": "amp", "type": "quantitative", "scale": {"domain": [-4.6, 7.2], "nice": false, "zero": false}},
                      "y": {"field": "depth", "type": "quantitative", "scale": {"domain": [5203.9, 6045.8], "reverse": true, "nice": false, "zero": false}},
                      "order": {"field": "depth", "type": "quantitative"}}},
        {"data": {"name": "curveB2"}, "mark": {"type": "line", "stroke": "#2a2a2a", "strokeWidth": 0.8},
         "encoding": {"x": {"field": "amp", "type": "quantitative", "scale": {"domain": [-7.7, 4.1], "nice": false, "zero": false}},
                      "y": {"field": "depth", "type": "quantitative", "scale": {"domain": [5203.9, 6045.8], "reverse": true, "nice": false, "zero": false}},
                      "order": {"field": "depth", "type": "quantitative"}}}
      ]
    }
  ]
}
